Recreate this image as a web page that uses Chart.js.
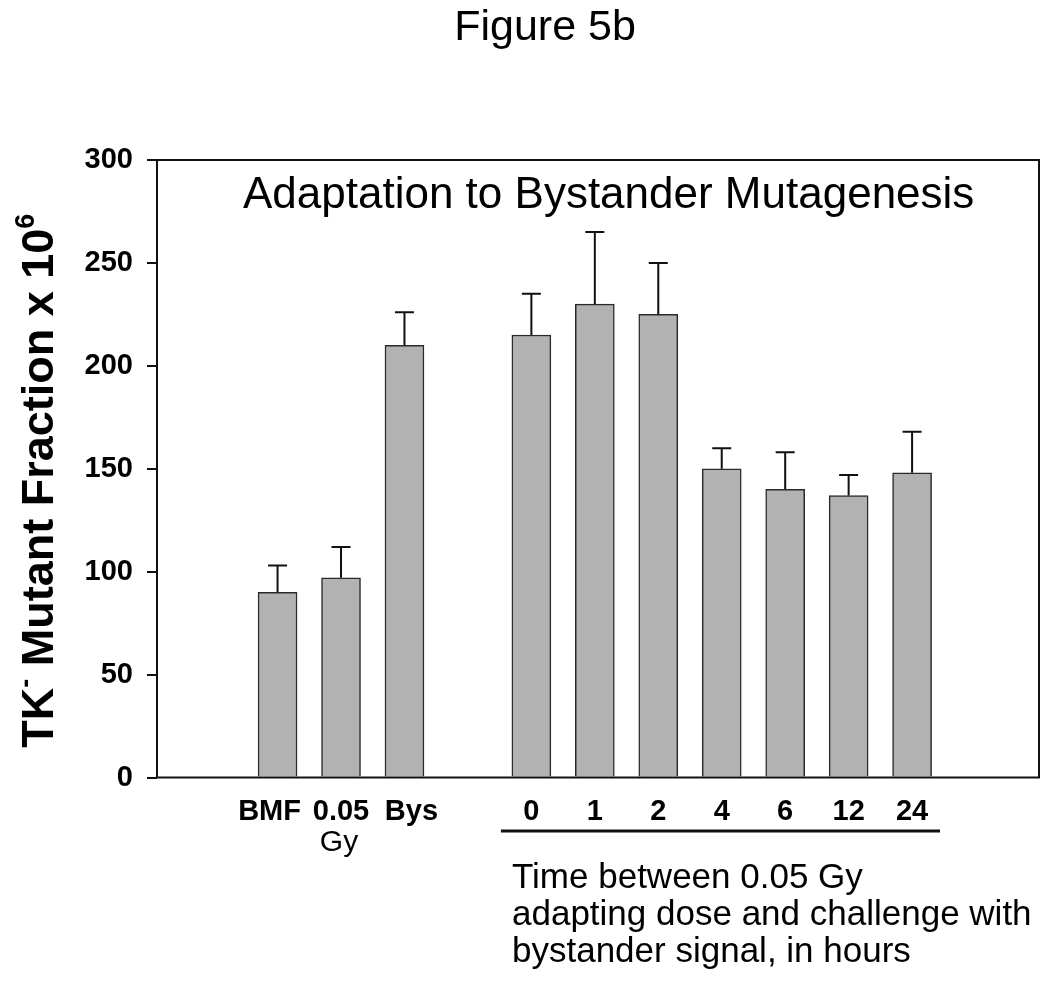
<!DOCTYPE html>
<html>
<head>
<meta charset="utf-8">
<script src="https://cdn.jsdelivr.net/npm/chart.js@4.4.0/dist/chart.umd.min.js"></script>
<style>
  html, body { margin: 0; padding: 0; background: #fff; }
</style>
</head>
<body>
<canvas id="chart" width="1050" height="983"></canvas>
<script>
// --- data ---
const groupLabels = ['BMF', '0.05', 'Bys', '0', '1', '2', '4', '6', '12', '24'];
const groupPositions = [0, 1, 2, 4, 5, 6, 7, 8, 9, 10];
const mutantFraction = [90, 97, 210, 215, 230, 225, 150, 140, 137, 148];
const errorUpper = [13, 15, 16, 20, 35, 25, 10, 18, 10, 20];
const yTicks = [0, 50, 100, 150, 200, 250, 300];

const figureTitle = 'Figure 5b';
const plotTitle = 'Adaptation to Bystander Mutagenesis';
const doseSubLabel = 'Gy';
const timeCaption = ['Time between 0.05 Gy', 'adapting dose and challenge with', 'bystander signal, in hours'];

const FONT = 'Arial, "Liberation Sans", sans-serif';

// 텍스트 + 위첨자 그리기 (y축 제목용)
function drawRichText(ctx, parts, cx, baseY, size) {
    const supSize = Math.round(size * 0.6);
    let total = 0;
    parts.forEach(p => {
        ctx.font = `bold ${p.sup ? supSize : size}px ${FONT}`;
        p.w = ctx.measureText(p.t).width;
        total += p.w;
    });
    let x = cx - total / 2;
    parts.forEach(p => {
        ctx.font = `bold ${p.sup ? supSize : size}px ${FONT}`;
        ctx.fillText(p.t, x, p.sup ? baseY - size * 0.42 : baseY);
        x += p.w;
    });
}

// 오차 막대 (위쪽만)
const errorBars = {
    id: 'errorBars',
    afterDatasetsDraw(chart) {
        const ctx = chart.ctx;
        const yScale = chart.scales.y;
        const meta = chart.getDatasetMeta(0);
        ctx.save();
        ctx.strokeStyle = '#111';
        ctx.lineWidth = 2;
        meta.data.forEach((bar, i) => {
            const top = yScale.getPixelForValue(mutantFraction[i] + errorUpper[i]);
            ctx.beginPath();
            ctx.moveTo(bar.x, bar.y);
            ctx.lineTo(bar.x, top);
            ctx.moveTo(bar.x - 9.5, top);
            ctx.lineTo(bar.x + 9.5, top);
            ctx.stroke();
        });
        ctx.restore();
    }
};

// 프레임, 제목, 라벨
const annotations = {
    id: 'annotations',
    afterDraw(chart) {
        const ctx = chart.ctx;
        const area = chart.chartArea;
        const xScale = chart.scales.x;
        ctx.save();

        ctx.strokeStyle = '#111';
        ctx.lineWidth = 2;
        ctx.strokeRect(area.left, area.top, area.right - area.left, area.bottom - area.top);

        ctx.fillStyle = '#000';
        ctx.textBaseline = 'alphabetic';

        ctx.textAlign = 'center';
        ctx.font = `43px ${FONT}`;
        ctx.fillText(figureTitle, 545, 40);

        ctx.textAlign = 'left';
        ctx.font = `44px ${FONT}`;
        ctx.fillText(plotTitle, 243, 208);

        // x 라벨 (왼쪽 그룹은 원본처럼 살짝 벌려서)
        const nudge = { 0: -8, 2: 7 };
        ctx.textAlign = 'center';
        ctx.font = `bold 29px ${FONT}`;
        groupLabels.forEach((lab, i) => {
            ctx.fillText(lab, xScale.getPixelForValue(groupPositions[i]) + (nudge[i] || 0), 820);
        });
        ctx.font = `30px ${FONT}`;
        ctx.fillText(doseSubLabel, xScale.getPixelForValue(groupPositions[1]) - 2, 851);

        // 시간 그룹 밑줄
        ctx.lineWidth = 3;
        ctx.beginPath();
        ctx.moveTo(xScale.getPixelForValue(3.52), 831);
        ctx.lineTo(xScale.getPixelForValue(10.44), 831);
        ctx.stroke();

        ctx.textAlign = 'left';
        ctx.font = `35px ${FONT}`;
        timeCaption.forEach((line, i) => {
            ctx.fillText(line, 512, 888 + i * 37);
        });

        // y축 제목
        ctx.translate(53, (area.top + area.bottom) / 2 + 12);
        ctx.rotate(-Math.PI / 2);
        ctx.textAlign = 'left';
        drawRichText(ctx, [
            { t: 'TK', sup: false },
            { t: '-', sup: true },
            { t: ' Mutant Fraction x 10', sup: false },
            { t: '6', sup: true }
        ], 0, 0, 45);

        ctx.restore();
    }
};

new Chart(document.getElementById('chart'), {
    type: 'bar',
    data: {
        datasets: [{
            data: groupPositions.map((p, i) => ({ x: p, y: mutantFraction[i] })),
            backgroundColor: '#b2b2b2',
            borderColor: '#2a2a2a',
            borderWidth: 1.5,
            barThickness: 39
        }]
    },
    options: {
        responsive: false,
        animation: false,
        layout: { padding: { top: 160, right: 11, left: 0, bottom: 0 } },
        plugins: {
            legend: { display: false },
            tooltip: { enabled: false }
        },
        scales: {
            x: {
                type: 'linear',
                offset: false,
                min: -1.9,
                max: 12,
                grid: { display: false },
                border: { display: false },
                ticks: { display: false },
                afterFit: s => { s.height = 205.5; }
            },
            y: {
                min: 0,
                max: 300,
                afterBuildTicks: s => { s.ticks = yTicks.map(v => ({ value: v })); },
                grid: {
                    display: true,
                    drawOnChartArea: false,
                    drawTicks: true,
                    tickLength: 10,
                    color: '#111',
                    lineWidth: 2
                },
                border: { display: false },
                ticks: {
                    color: '#000',
                    padding: 14,
                    font: { family: FONT, size: 29, weight: 'bold' }
                },
                afterFit: s => { s.width = 157; }
            }
        }
    },
    plugins: [errorBars, annotations]
});
</script>
</body>
</html>
